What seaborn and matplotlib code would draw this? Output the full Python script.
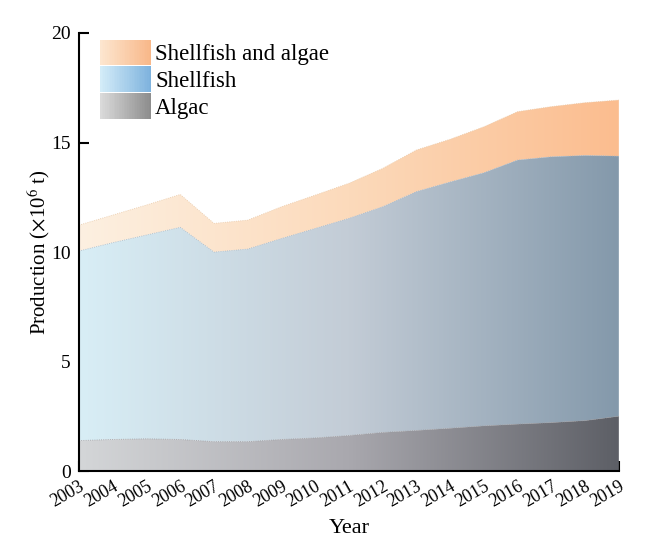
import numpy as np
import pandas as pd
import matplotlib
matplotlib.use("Agg")
import matplotlib.pyplot as plt
import seaborn as sns
from matplotlib.colors import LinearSegmentedColormap, to_rgb
from matplotlib.patches import Rectangle
from matplotlib.legend_handler import HandlerBase

# values (x10^6 t)
years = list(range(2003, 2020))
algae = [1.40, 1.45, 1.48, 1.45, 1.35, 1.35, 1.45, 1.52, 1.63, 1.77, 1.86, 1.96, 2.07, 2.15, 2.22, 2.31, 2.51]
shellfish = [8.65, 8.98, 9.30, 9.68, 8.65, 8.79, 9.17, 9.56, 9.91, 10.30, 10.90, 11.24, 11.55, 12.05, 12.13, 12.10, 11.87]
total = [11.23, 11.69, 12.15, 12.63, 11.31, 11.46, 12.07, 12.60, 13.14, 13.82, 14.66, 15.15, 15.72, 16.41, 16.64, 16.82, 16.94]

df = pd.DataFrame({"Year": years, "Algae": algae, "Shellfish": shellfish, "Total": total})
df["Cum"] = df["Algae"] + df["Shellfish"]

# gradient colours left -> right
top_cols = ["#fdf0e1", "#fcdabb", "#fbbd8f"]
shell_cols = ["#d8eef6", "#c3ccd6", "#8499ab"]
algae_cols = ["#d4d6d8", "#a9a8ae", "#5d5f66"]
leg_cols = [["#fde6cf", "#f8b88a"], ["#d3ecf8", "#7fb3de"], ["#dadada", "#8e8e8e"]]

sns.set_style("ticks")
plt.rcParams["font.family"] = ["Liberation Serif", "DejaVu Serif"]
plt.rcParams["mathtext.fontset"] = "stix"
plt.rcParams["text.color"] = "black"
plt.rcParams["axes.labelcolor"] = "black"
plt.rcParams["xtick.color"] = "black"
plt.rcParams["ytick.color"] = "black"

fig = plt.figure(figsize=(6.48, 5.59), dpi=100)
ax = fig.add_axes([0.122, 0.157, 0.833, 0.784])


def grad_fill(ax, x, lo, hi, cols, z):
    poly = ax.fill_between(x, lo, hi, color="none", lw=0)
    cmap = LinearSegmentedColormap.from_list("g", cols)
    img = ax.imshow(np.linspace(0, 1, 256)[None, :], cmap=cmap, aspect="auto",
                    extent=[min(x), max(x), 0, 20], origin="lower", zorder=z,
                    interpolation="bilinear")
    img.set_clip_path(poly.get_paths()[0], transform=ax.transData)


grad_fill(ax, df["Year"], df["Cum"], df["Total"], top_cols, 1)
grad_fill(ax, df["Year"], df["Algae"], df["Cum"], shell_cols, 1)
grad_fill(ax, df["Year"], 0, df["Algae"], algae_cols, 1)

# soft boundary lines
for col, c in [("Total", "#e9c9a8"), ("Cum", "#a9b6c2"), ("Algae", "#9a9ba0")]:
    sns.lineplot(data=df, x="Year", y=col, ax=ax, color=c, lw=0.6, ls=":", zorder=2)

ax.set_xlim(2003, 2019)
ax.set_ylim(0, 20)
ax.set_xticks(years)
ax.set_xticklabels([str(y) for y in years], rotation=30, ha="right",
                   rotation_mode="anchor", fontsize=13)
ax.set_yticks([0, 5, 10, 15, 20])
ax.set_yticklabels(["0", "5", "10", "15", "20"], fontsize=14)
ax.tick_params(axis="both", direction="in", length=7, width=1.5, color="black", labelcolor="black")
ax.tick_params(axis="x", pad=5)
ax.tick_params(axis="y", pad=6)
sns.despine(ax=ax)
for s in ["left", "bottom"]:
    ax.spines[s].set_linewidth(1.5)
    ax.spines[s].set_color("black")
    ax.spines[s].set_zorder(5)

ax.set_xlabel("Year", fontsize=16, labelpad=6)
ax.set_ylabel(r"Production ($\times$10$^{6}$ t)", fontsize=15, labelpad=-1)


class GradHandler(HandlerBase):
    def __init__(self, cols):
        super().__init__()
        self.cols = cols

    def create_artists(self, legend, orig_handle, xdescent, ydescent, width, height, fontsize, trans):
        n = 30
        c0, c1 = np.array(to_rgb(self.cols[0])), np.array(to_rgb(self.cols[1]))
        arts = []
        for i in range(n):
            f = i / (n - 1)
            r = Rectangle((-xdescent + width * i / n, -ydescent), width / n + 0.3, height,
                          facecolor=c0 + (c1 - c0) * f, edgecolor="none", transform=trans)
            arts.append(r)
        return arts


labels = ["Shellfish and algae", "Shellfish", "Algac"]
handles = [Rectangle((0, 0), 1, 1) for _ in labels]
ax.legend(handles, labels, loc="upper left", bbox_to_anchor=(0.022, 1.006), frameon=False,
          fontsize=16.5, handlelength=2.2, handleheight=1.35, labelspacing=0.05,
          handletextpad=0.2, borderaxespad=0.0,
          handler_map={h: GradHandler(c) for h, c in zip(handles, leg_cols)})

fig.savefig("out.png", dpi=100, facecolor="white")
